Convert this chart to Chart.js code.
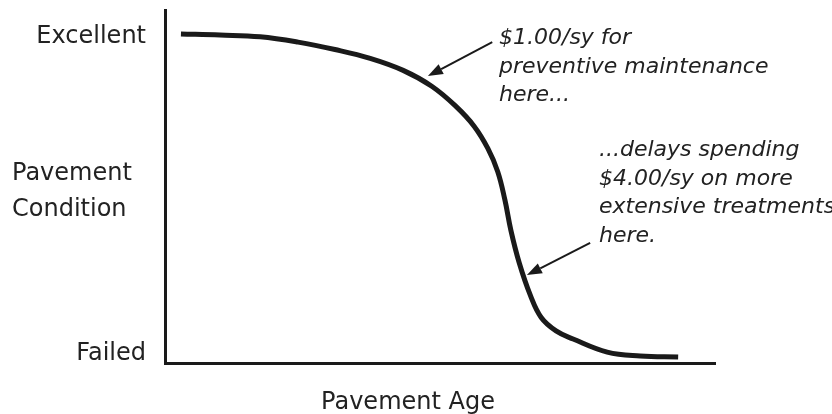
<!DOCTYPE html>
<html lang="en">
<head>
<meta charset="UTF-8" />
<title>Pavement Condition vs Pavement Age</title>
<script src="https://cdn.jsdelivr.net/npm/chart.js@4.4.0/dist/chart.umd.min.js"></script>
<style>
  html, body { margin: 0; padding: 0; background: #fff; }
  .chart-box { position: relative; width: 832px; height: 414px; }
</style>
</head>
<body>
<div class="chart-box"><canvas id="deteriorationChart"></canvas></div>
<script>
// age runs 0..100 along the x axis, condition 0 (failed) .. 100 (top of axis)
const ages = [2.9, 10.0, 17.3, 24.2, 30.9, 37.3, 43.3, 48.5, 52.9, 56.2, 58.7, 60.5, 61.8, 62.9, 64.4, 66.4, 68.4, 71.1, 74.2, 80.4, 86.4, 93.3];
const conditions = [93.2, 92.9, 92.4, 90.9, 88.8, 86.3, 82.9, 78.4, 72.7, 67.1, 60.8, 54.2, 46.2, 37.5, 28.4, 19.3, 12.9, 9.1, 6.8, 3.1, 2.0, 1.7];

const conditionTicks = [92.5, 2.5];
const conditionTickLabels = ["Excellent", "Failed"];
const yTitleLines = ["Pavement", "Condition"];
const xTitle = "Pavement Age";

const noteEarly = ["$1.00/sy for", "preventive maintenance", "here..."];
const noteLate = ["...delays spending", "$4.00/sy on more", "extensive treatments", "here."];
// [tail age, tail condition, tip age, tip condition]
const arrowEarly = [59.5, 90.9, 47.8, 81.3];
const arrowLate = [77.3, 34.0, 65.8, 24.9];

const ink = "#1a1a1a";
const textInk = "#222";

function drawArrow(ctx, x1, y1, x2, y2) {
  const a = Math.atan2(y2 - y1, x2 - x1);
  const len = 15, hw = 5.5;
  const bx = x2 - len * Math.cos(a), by = y2 - len * Math.sin(a);
  ctx.beginPath();
  ctx.moveTo(x1, y1);
  ctx.lineTo(bx, by);
  ctx.stroke();
  ctx.beginPath();
  ctx.moveTo(x2, y2);
  ctx.lineTo(bx + hw * Math.sin(a), by - hw * Math.cos(a));
  ctx.lineTo(bx - hw * Math.sin(a), by + hw * Math.cos(a));
  ctx.closePath();
  ctx.fill();
}

const notes = {
  id: "notes",
  afterDraw(chart) {
    const { ctx, scales: { x, y } } = chart;
    ctx.save();
    ctx.fillStyle = textInk;
    ctx.textBaseline = "alphabetic";

    // axis captions
    ctx.font = "24px 'DejaVu Sans'";
    ctx.textAlign = "left";
    ctx.fillText(yTitleLines[0], 12, 180);
    ctx.fillText(yTitleLines[1], 12, 216);
    ctx.textAlign = "center";
    ctx.fillText(xTitle, 408, 409);

    // callouts
    ctx.font = "italic 22px 'DejaVu Sans'";
    ctx.textAlign = "left";
    noteEarly.forEach((t, i) => ctx.fillText(t, 499, 44 + i * 28.5));
    noteLate.forEach((t, i) => ctx.fillText(t, 599, 156 + i * 28.5));

    ctx.strokeStyle = ink;
    ctx.fillStyle = ink;
    ctx.lineWidth = 2;
    [arrowEarly, arrowLate].forEach((a) => {
      drawArrow(ctx, x.getPixelForValue(a[0]), y.getPixelForValue(a[1]),
        x.getPixelForValue(a[2]), y.getPixelForValue(a[3]));
    });
    ctx.restore();
  },
};

new Chart(document.getElementById("deteriorationChart"), {
  type: "line",
  data: {
    datasets: [
      {
        data: ages.map((a, i) => ({ x: a, y: conditions[i] })),
        borderColor: ink,
        borderWidth: 5,
        borderCapStyle: "butt",
        borderJoinStyle: "round",
        pointRadius: 0,
        tension: 0.4,
        fill: false,
      },
    ],
  },
  options: {
    responsive: true,
    maintainAspectRatio: false,
    animation: false,
    layout: { padding: { top: 10, right: 117, left: 0, bottom: 0 } },
    plugins: { legend: { display: false }, tooltip: { enabled: false } },
    scales: {
      x: {
        type: "linear",
        min: 0,
        max: 100,
        grid: { display: false, drawTicks: false },
        border: { display: true, color: ink, width: 3 },
        ticks: { display: false },
        afterFit(scale) {
          scale.height = 51;
          scale.paddingLeft = 0;
          scale.paddingRight = 0;
        },
      },
      y: {
        type: "linear",
        min: 0,
        max: 100,
        grid: { display: false, drawTicks: false },
        border: { display: true, color: ink, width: 3 },
        afterBuildTicks(scale) {
          scale.ticks = conditionTicks.map((v) => ({ value: v }));
        },
        ticks: {
          padding: 19,
          color: textInk,
          font: { family: "'DejaVu Sans'", size: 24 },
          callback: (v, i) => conditionTickLabels[i],
        },
        afterFit(scale) {
          scale.width = 165;
          scale.paddingTop = 0;
          scale.paddingBottom = 0;
        },
      },
    },
  },
  plugins: [notes],
});
</script>
</body>
</html>
